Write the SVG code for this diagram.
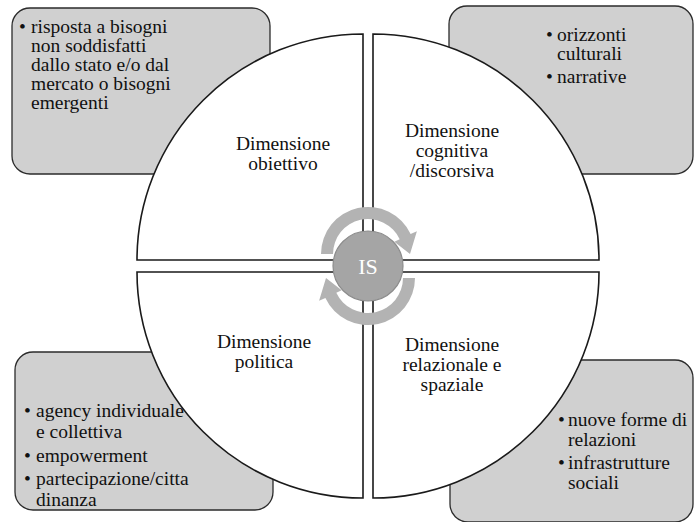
<svg xmlns="http://www.w3.org/2000/svg" width="695" height="522" viewBox="0 0 695 522">
<style>
.box{fill:#d0d0d0;stroke:#2b2b2b;stroke-width:1.3}
.quad{fill:#ffffff;stroke:#1a1a1a;stroke-width:1.6}
.t{font-size:19.5px;fill:#111111}
.c{text-anchor:middle}
.arr{fill:#b3b3b3}
</style>
<rect width="695" height="522" fill="#ffffff"/>
<g font-family="Liberation Serif, serif">
<g id="box-obiettivo">
<rect class="box" x="12" y="8" width="258" height="166" rx="18"/>
<text class="t"><tspan x="19" y="33">•</tspan><tspan x="31" y="33">risposta a bisogni</tspan><tspan x="31" y="52">non soddisfatti</tspan><tspan x="31" y="71">dallo stato e/o dal</tspan><tspan x="31" y="90">mercato o bisogni</tspan><tspan x="31" y="109">emergenti</tspan></text>
</g>
<g id="box-cognitiva">
<rect class="box" x="449" y="6" width="244" height="168" rx="18"/>
<text class="t"><tspan x="546" y="41">•</tspan><tspan x="557" y="41">orizzonti</tspan><tspan x="557" y="60">culturali</tspan><tspan x="546" y="83">•</tspan><tspan x="557" y="83">narrative</tspan></text>
</g>
<g id="box-politica">
<rect class="box" x="15" y="352" width="258" height="158" rx="18"/>
<text class="t"><tspan x="24" y="417">•</tspan><tspan x="36" y="417">agency individuale</tspan><tspan x="36" y="438">e collettiva</tspan><tspan x="24" y="462">•</tspan><tspan x="36" y="462">empowerment</tspan><tspan x="24" y="485">•</tspan><tspan x="36" y="485">partecipazione/citta</tspan><tspan x="36" y="506">dinanza</tspan></text>
</g>
<g id="box-relazionale">
<rect class="box" x="450" y="360" width="243" height="162" rx="18"/>
<text class="t"><tspan x="558" y="426">•</tspan><tspan x="568" y="426">nuove forme di</tspan><tspan x="568" y="446">relazioni</tspan><tspan x="558" y="469">•</tspan><tspan x="568" y="469">infrastrutture</tspan><tspan x="568" y="489">sociali</tspan></text>
</g>
<g id="quad-obiettivo">
<path class="quad" d="M363,260 L137,260 A226,226 0 0 1 363,34 Z"/>
<text class="t c"><tspan x="283" y="150">Dimensione</tspan><tspan x="283" y="170">obiettivo</tspan></text>
</g>
<g id="quad-cognitiva">
<path class="quad" d="M373,260 L373,34 A226,226 0 0 1 599,260 Z"/>
<text class="t c"><tspan x="452" y="137">Dimensione</tspan><tspan x="452" y="157">cognitiva</tspan><tspan x="452" y="177">/discorsiva</tspan></text>
</g>
<g id="quad-relazionale">
<path class="quad" d="M373,272 L599,272 A226,226 0 0 1 373,498 Z"/>
<text class="t c"><tspan x="452" y="351">Dimensione</tspan><tspan x="452" y="371">relazionale e</tspan><tspan x="452" y="391">spaziale</tspan></text>
</g>
<g id="quad-politica">
<path class="quad" d="M363,272 L363,498 A226,226 0 0 1 137,272 Z"/>
<text class="t c"><tspan x="264" y="348">Dimensione</tspan><tspan x="264" y="368">politica</tspan></text>
</g>
<g id="connectors">
<path id="arrow-top" class="arr" d="M321,254 A47,47 0 0 1 410.6,234.1 L416.9,231.2 L410,254 L394.3,241.7 L399.7,239.2 A35,35 0 0 0 333,254 Z"/>
<path id="arrow-bottom" class="arr" transform="rotate(180 368 266)" d="M321,254 A47,47 0 0 1 410.6,234.1 L416.9,231.2 L410,254 L394.3,241.7 L399.7,239.2 A35,35 0 0 0 333,254 Z"/>
</g>
<g id="center-is">
<circle cx="368" cy="266" r="35" fill="#a5a5a5" stroke="#8c8c8c" stroke-width="1.2"/>
<text x="368" y="274" text-anchor="middle" font-size="22" fill="#ffffff">IS</text>
</g>
</g>
</svg>
